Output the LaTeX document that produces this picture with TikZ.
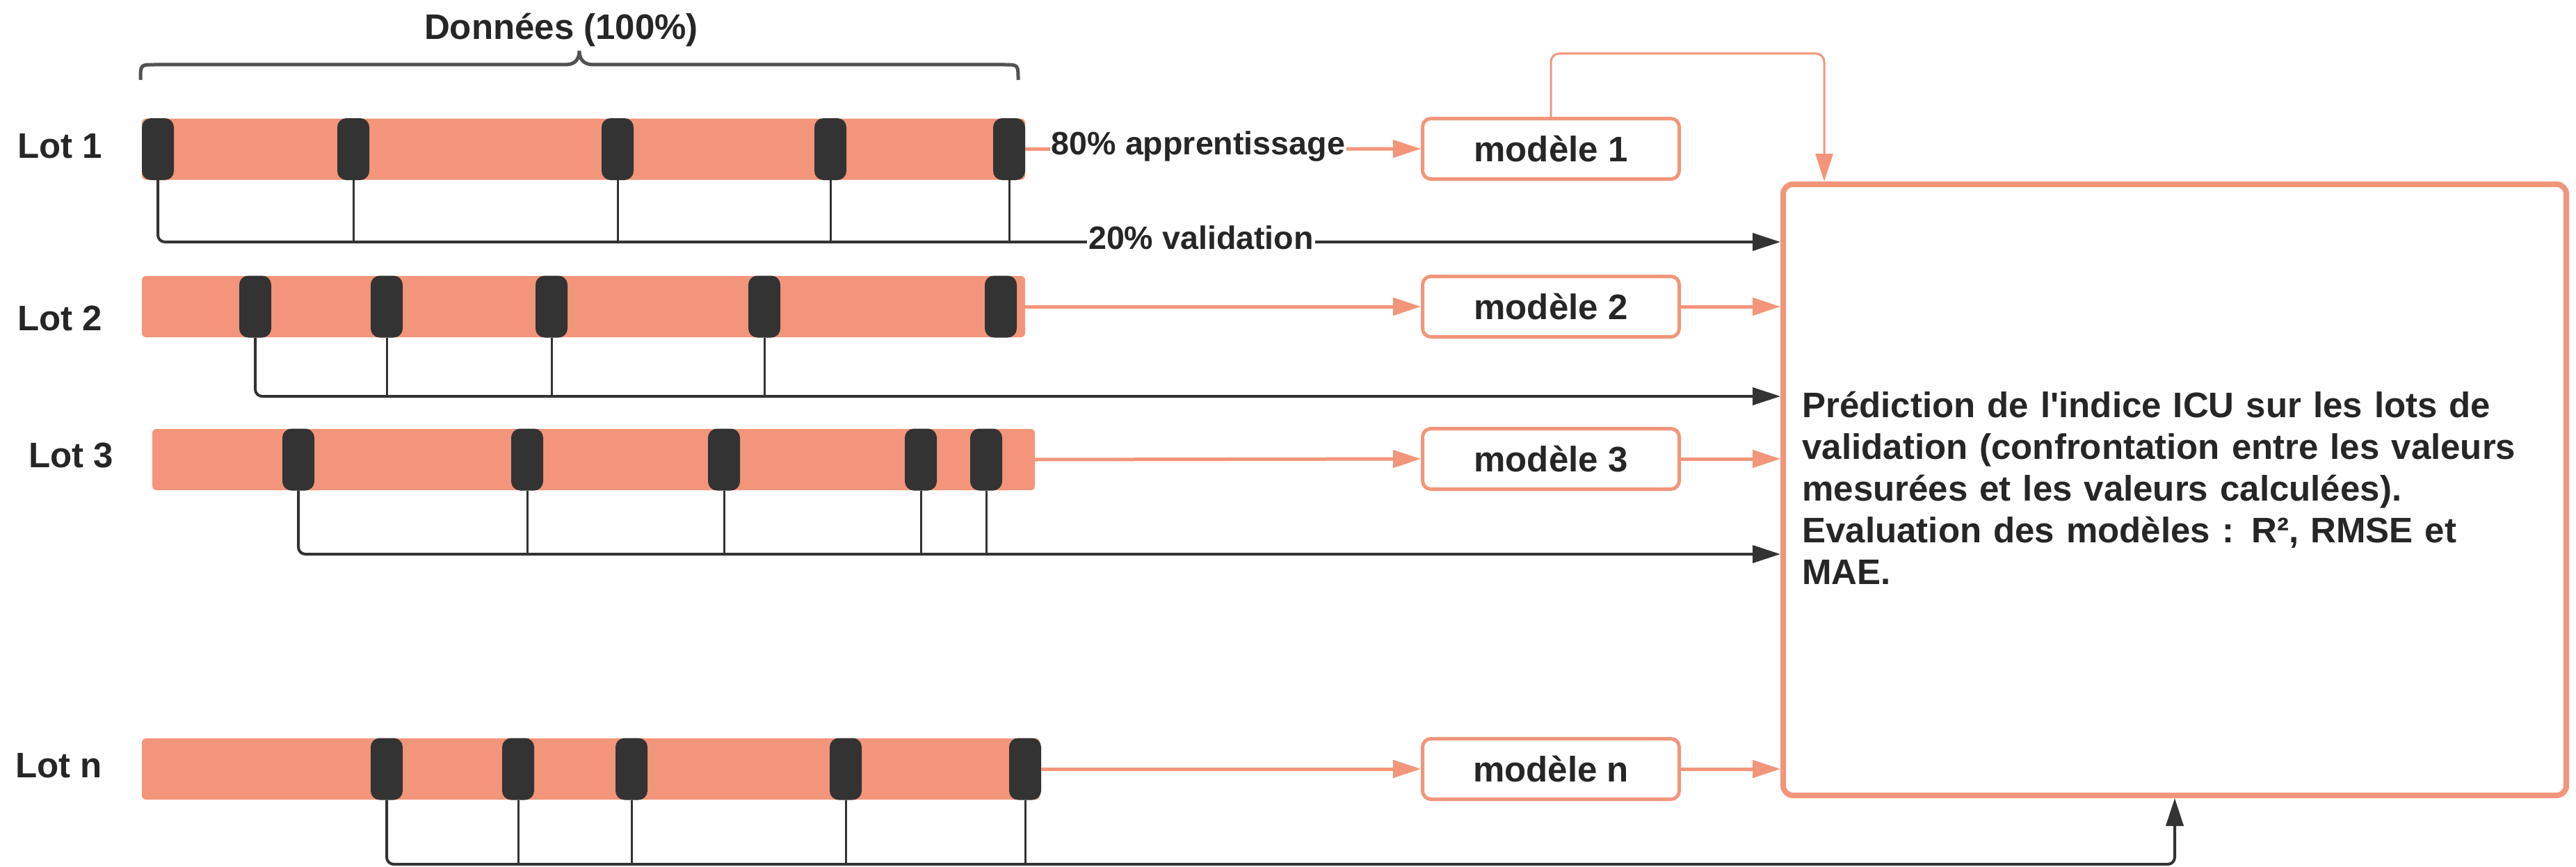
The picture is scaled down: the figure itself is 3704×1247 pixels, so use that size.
\documentclass[tikz,border=0pt]{standalone}
\usepackage{fontspec}
\newfontfamily\libsans{Liberation Sans}
\usetikzlibrary{arrows.meta}
\definecolor{salmon}{HTML}{F2957A}
\definecolor{dark}{HTML}{333333}
\definecolor{txtc}{HTML}{262626}
\begin{document}
\begin{tikzpicture}[x=0.5pt,y=-0.5pt,
  bar/.style={rectangle, fill=salmon, draw=none, inner sep=0pt, outer sep=0pt, rounded corners=3pt, minimum height=44pt},
  mk/.style={rectangle, fill=dark, draw=none, inner sep=0pt, outer sep=0pt, rounded corners=6.5pt, minimum width=23pt, minimum height=44.5pt},
  lbl/.style={font=\libsans\bfseries\fontsize{25.5pt}{30pt}\selectfont, text=txtc, inner sep=0pt},
  arrlbl/.style={font=\libsans\bfseries\fontsize{23.3pt}{28pt}\selectfont, text=txtc, fill=white, inner xsep=1pt, inner ysep=3pt},
  model/.style={rectangle, draw=salmon, line width=2.5pt, rounded corners=6pt, minimum width=184.5pt, minimum height=43.5pt, fill=white, text=txtc, font=\libsans\bfseries\fontsize{25.5pt}{30pt}\selectfont},
  bigbox/.style={rectangle, draw=salmon, line width=4pt, rounded corners=7pt, minimum width=563pt, minimum height=439.5pt},
  arrowtip/.style={-{Triangle[length=20pt,width=12.5pt]}},
  trainline/.style={draw=salmon, line width=2.5pt, arrowtip},
  valh/.style={draw=dark, line width=2pt, rounded corners=5pt},
  valv/.style={draw=dark, line width=1.5pt},
  bracestyle/.style={draw=black!68, line width=2.5pt},
]
\useasboundingbox (0,0) rectangle (3704,1247);

% brace and title
\draw[bracestyle] (202,115) .. controls (202,93) .. (222,93) -- (813,93)
  .. controls (827,93) and (833,85) .. (833,73)
  .. controls (833,85) and (839,93) .. (853,93) -- (1444,93)
  .. controls (1464,93) .. (1464,115);
\node[lbl, anchor=base] (donnees) at (807,57) {Données (100\%)};

% lot labels
\node[lbl, anchor=base west] (lot1) at (25,227) {Lot 1};
\node[lbl, anchor=base west] (lot2) at (25,475) {Lot 2};
\node[lbl, anchor=base west] (lot3) at (41,672) {Lot 3};
\node[lbl, anchor=base west] (lotn) at (22,1118) {Lot n};

% bars
\node[bar, minimum width=635pt] (b1) at (839,214.5) {};
\node[bar, minimum width=635pt] (b2) at (839,441) {};
\node[bar, minimum width=634.5pt] (b3) at (853.5,661) {};
\node[bar, minimum width=645.5pt] (bn) at (849.5,1106) {};

% markers
\foreach \x [count=\i] in {227,508,888,1194,1451} \node[mk] (m1\i) at (\x,214.5) {};
\foreach \x [count=\i] in {367,556,793,1099,1439} \node[mk] (m2\i) at (\x,441) {};
\foreach \x [count=\i] in {429,758,1041,1324,1418} \node[mk] (m3\i) at (\x,661) {};
\foreach \x [count=\i] in {556,745,908,1216,1474} \node[mk] (mn\i) at (\x,1106) {};

% models and big box
\node[model] (mod1) at (2230,214) {modèle 1};
\node[model] (mod2) at (2230,441) {modèle 2};
\node[model] (mod3) at (2230,660) {modèle 3};
\node[model] (modn) at (2230,1106) {modèle n};
\node[bigbox] (big) at (3127,704.5) {};
\node[lbl, anchor=base west, text width=545pt, align=left] (bigtxt) at (2591,600)
  {Prédiction de l'indice ICU sur les lots de\\
   validation (confrontation entre les valeurs\\
   mesurées et les valeurs calculées).\\
   Evaluation des modèles : R², RMSE et\\
   MAE.};

% training arrows
\draw[trainline] (m15.east) -- (mod1.west);
\node[arrlbl, anchor=base] (app) at (1723,222) {80\% apprentissage};
\draw[trainline] (b2.east) -- (mod2.west);
\draw[trainline] (b3.east) -- (mod3.west);
\draw[trainline] (mn5.east) -- (modn.west);

% model -> big box
\coordinate (tc) at (2623,77);
\draw[draw=salmon, line width=1.5pt, rounded corners=6pt, arrowtip] (mod1.north) |- (tc) -- (tc |- big.north);
\draw[trainline] (mod2.east) -- (big.west |- mod2.east);
\draw[trainline] (mod3.east) -- (big.west |- mod3.east);
\draw[trainline] (modn.east) -- (big.west |- modn.east);

% validation lines
\coordinate (h1) at (0,348);
\coordinate (h2) at (0,570);
\coordinate (h3) at (0,797);
\coordinate (hn) at (0,1243);
\draw[valh, arrowtip] (m11.south) |- (big.west |- h1);
\foreach \m in {m12,m13,m14,m15} \draw[valv] (\m.south) -- (\m.south |- h1);
\node[arrlbl, anchor=base] (val) at (1727,358) {20\% validation};
\draw[valh, arrowtip] (m21.south) |- (big.west |- h2);
\foreach \m in {m22,m23,m24} \draw[valv] (\m.south) -- (\m.south |- h2);
\draw[valh, arrowtip] (m31.south) |- (big.west |- h3);
\foreach \m in {m32,m33,m34,m35} \draw[valv] (\m.south) -- (\m.south |- h3);
\draw[valh, arrowtip] (mn1.south) |- (big.south |- hn) -- (big.south);
\foreach \m in {mn2,mn3,mn4,mn5} \draw[valv] (\m.south) -- (\m.south |- hn);
\end{tikzpicture}
\end{document}
